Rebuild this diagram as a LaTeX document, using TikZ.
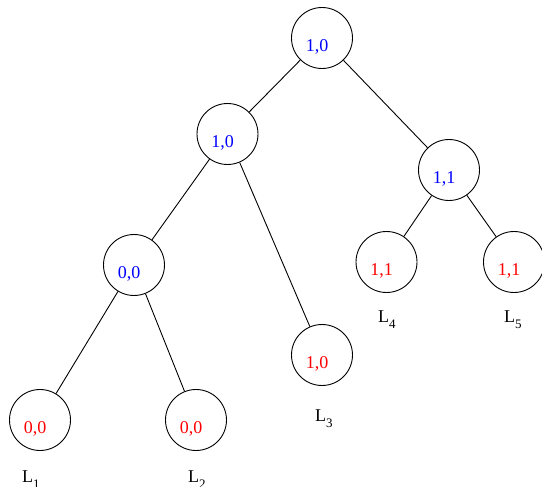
\documentclass[tikz,border=0pt]{standalone}
\usepackage{fontspec}
\setmainfont{Liberation Serif}
\begin{document}
\begin{tikzpicture}[x=1pt,y=-1pt,
    vertex/.style={draw, circle, minimum size=61pt, inner sep=0pt, line width=0.9pt},
    val/.style={font=\fontsize{18}{18}\selectfont, inner sep=0pt},
    leafname/.style={font=\fontsize{18}{18}\selectfont, inner sep=0pt, anchor=base west}]
    \useasboundingbox (0,0) rectangle (542,487);
    % vertices
    \node[vertex] (rt) at (322,38) {};
    \node[vertex] (na) at (227.5,134) {};
    \node[vertex] (nb) at (449,170) {};
    \node[vertex] (nc) at (134,265) {};
    \node[vertex] (la) at (40,420) {};
    \node[vertex] (lb) at (196,420) {};
    \node[vertex] (lc) at (322,355) {};
    \node[vertex] (ld) at (386.5,262) {};
    \node[vertex] (le) at (514,262) {};
    % values
    \node[val, blue] (vrt) at ([shift={(-5,9)}]rt.center) {1,0};
    \node[val, blue] (vna) at ([shift={(-5,9)}]na.center) {1,0};
    \node[val, blue] (vnb) at ([shift={(-5,9)}]nb.center) {1,1};
    \node[val, blue] (vnc) at ([shift={(-5,9)}]nc.center) {0,0};
    \node[val, red] (vla) at ([shift={(-5,9)}]la.center) {0,0};
    \node[val, red] (vlb) at ([shift={(-5,9)}]lb.center) {0,0};
    \node[val, red] (vlc) at ([shift={(-5,9)}]lc.center) {1,0};
    \node[val, red] (vld) at ([shift={(-5,9)}]ld.center) {1,1};
    \node[val, red] (vle) at ([shift={(-5,9)}]le.center) {1,1};
    % edges
    \draw[line width=0.9pt] (rt) -- (na);
    \draw[line width=0.9pt] (rt) -- (nb);
    \draw[line width=0.9pt] (na) -- (nc);
    \draw[line width=0.9pt] (na) -- (lc);
    \draw[line width=0.9pt] (nc) -- (la);
    \draw[line width=0.9pt] (nc) -- (lb);
    \draw[line width=0.9pt] (nb) -- (ld);
    \draw[line width=0.9pt] (nb) -- (le);
    % leaf names
    \node[leafname] (na1) at (22,482) {L\raisebox{-6pt}{\fontsize{13}{13}\selectfont 1}};
    \node[leafname] (na2) at (188,482) {L\raisebox{-6pt}{\fontsize{13}{13}\selectfont 2}};
    \node[leafname] (na3) at (315,421) {L\raisebox{-6pt}{\fontsize{13}{13}\selectfont 3}};
    \node[leafname] (na4) at (378,322) {L\raisebox{-6pt}{\fontsize{13}{13}\selectfont 4}};
    \node[leafname] (na5) at (504,322) {L\raisebox{-6pt}{\fontsize{13}{13}\selectfont 5}};
\end{tikzpicture}
\end{document}
